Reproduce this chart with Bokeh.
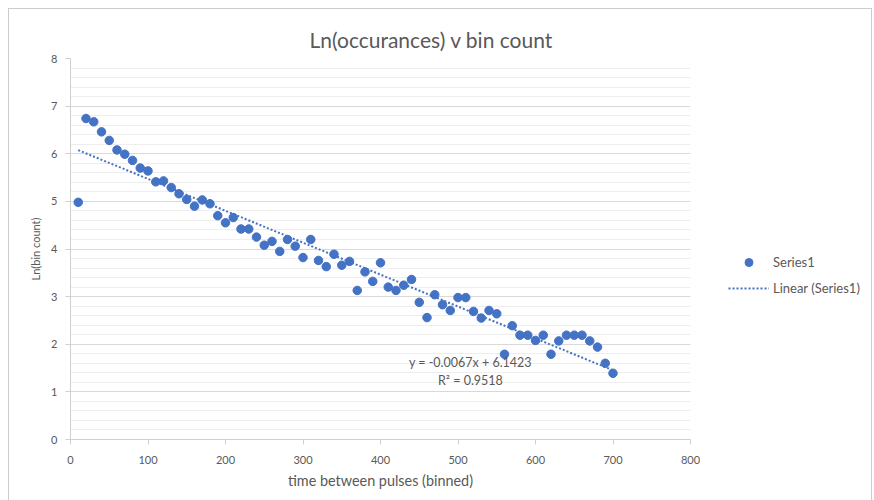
from bokeh.plotting import figure
from bokeh.layouts import row
from bokeh.models import Range1d, Legend, LegendItem, FixedTicker
from bokeh.core.properties import value
from bokeh.embed import file_html
from bokeh.resources import INLINE

# data
bin_x = [10, 20, 30, 40, 50, 60, 70, 80, 90, 100,
         110, 120, 130, 140, 150, 160, 170, 180, 190, 200,
         210, 220, 230, 240, 250, 260, 270, 280, 290, 300,
         310, 320, 330, 340, 350, 360, 370, 380, 390, 400,
         410, 420, 430, 440, 450, 460, 470, 480, 490, 500,
         510, 520, 530, 540, 550, 560, 570, 580, 590, 600,
         610, 620, 630, 640, 650, 660, 670, 680, 690, 700]
ln_count = [4.98, 6.74, 6.67, 6.46, 6.28, 6.08, 5.99, 5.86, 5.70, 5.64,
            5.41, 5.43, 5.29, 5.16, 5.04, 4.90, 5.03, 4.95, 4.70, 4.55,
            4.66, 4.42, 4.42, 4.25, 4.08, 4.16, 3.95, 4.20, 4.06, 3.82,
            4.20, 3.76, 3.63, 3.89, 3.66, 3.74, 3.13, 3.52, 3.32, 3.71,
            3.20, 3.13, 3.24, 3.36, 2.88, 2.56, 3.04, 2.83, 2.71, 2.98,
            2.98, 2.69, 2.55, 2.71, 2.64, 1.79, 2.39, 2.19, 2.19, 2.08,
            2.19, 1.79, 2.07, 2.19, 2.19, 2.19, 2.07, 1.94, 1.60, 1.39]
trend_slope = -0.0067
trend_intercept = 6.1423
eq_lines = ["y = -0.0067x + 6.1423", "R\u00b2 = 0.9518"]
eq_x = [516, 516]
eq_y = [1.62, 1.24]
x_ticks = [0, 100, 200, 300, 400, 500, 600, 700, 800]
y_ticks = [0, 1, 2, 3, 4, 5, 6, 7, 8]
legend_labels = ["Series1", "Linear (Series1)"]

FONT = "Lato"
GREY = "#595959"
BLUE = "#4472C4"

p = figure(width=691, height=491, output_backend="svg", toolbar_location=None,
           x_range=Range1d(0, 800), y_range=Range1d(0, 8),
           min_border_left=61, min_border_right=10, min_border_top=49, min_border_bottom=61,
           title="Ln(occurances) v bin count")
p.outline_line_color = None
p.background_fill_color = "white"
p.border_fill_color = "white"

p.title.align = "left"
p.title.offset = 239
p.title.vertical_align = "top"
p.title.text_font = FONT
p.title.text_font_size = "21px"
p.title.text_font_style = "normal"
p.title.text_color = GREY
p.title.standoff = 9

p.xgrid.grid_line_color = None
p.ygrid.grid_line_color = "#d9d9d9"
p.ygrid.minor_grid_line_color = "#eeeeee"

p.xaxis.ticker = FixedTicker(ticks=x_ticks)
p.yaxis.ticker = FixedTicker(ticks=y_ticks, minor_ticks=[v / 5 for v in range(0, 41)])

for ax in (p.xaxis[0], p.yaxis[0]):
    ax.axis_line_color = "#d0d0d0"
    ax.major_tick_line_color = "#d0d0d0"
    ax.major_tick_out = 5
    ax.major_tick_in = 0
    ax.minor_tick_line_color = None
    ax.major_label_text_font = FONT
    ax.major_label_text_font_size = "11px"
    ax.major_label_text_color = GREY
    ax.axis_label_text_font = FONT
    ax.axis_label_text_font_style = "normal"
    ax.axis_label_text_color = GREY

p.xaxis.major_label_standoff = 11
p.xaxis.axis_label_standoff = 5
p.xaxis.axis_label_text_font_size = "14.4px"
p.yaxis.major_label_standoff = 8
p.yaxis.axis_label_standoff = 6
p.yaxis.axis_label_text_font_size = "11px"

p.xaxis.axis_label = "time between pulses (binned)"
p.yaxis.axis_label = "Ln(bin count)"

tx = [bin_x[0], bin_x[-1]]
ty = [trend_slope * v + trend_intercept for v in tx]

p.scatter(bin_x, ln_count, size=8.5, fill_color=BLUE, line_color=BLUE)
p.line(tx, ty, line_color=BLUE, line_width=2, line_dash="2 2")

p.text(eq_x, eq_y, text=eq_lines, text_font=value(FONT), text_font_size="12.5px",
       text_color=GREY, text_align="center", text_baseline="middle")

# legend panel on the right (its renderers hold the same series, outside its view)
q = figure(width=171, height=491, output_backend="svg", toolbar_location=None,
           x_range=Range1d(-2, -1), y_range=Range1d(-2, -1),
           x_axis_location=None, y_axis_location=None,
           min_border_left=0, min_border_right=0, min_border_top=0, min_border_bottom=0)
q.outline_line_color = None
q.xgrid.grid_line_color = None
q.ygrid.grid_line_color = None
q.border_fill_color = "white"
q.background_fill_color = "white"
q_pts = q.scatter(bin_x, ln_count, size=8.5, fill_color=BLUE, line_color=BLUE)
q_line = q.line(tx, ty, line_color=BLUE, line_width=2, line_dash="2 2")

legend = Legend(items=[LegendItem(label=legend_labels[0], renderers=[q_pts]),
                       LegendItem(label=legend_labels[1], renderers=[q_line])],
                location=(28, 141), orientation="vertical",
                background_fill_alpha=0, border_line_color=None,
                label_text_font=FONT, label_text_font_size="13px", label_text_color=GREY,
                glyph_width=41, glyph_height=20, label_height=20, label_standoff=4,
                spacing=6, padding=0, margin=0)
q.add_layout(legend, "center")

layout = row(p, q)
layout.styles = {"border": "1px solid #cccccc", "margin-left": "8px", "margin-top": "8px",
                 "background-color": "white"}

open("out.html", "w").write(file_html(layout, INLINE))
